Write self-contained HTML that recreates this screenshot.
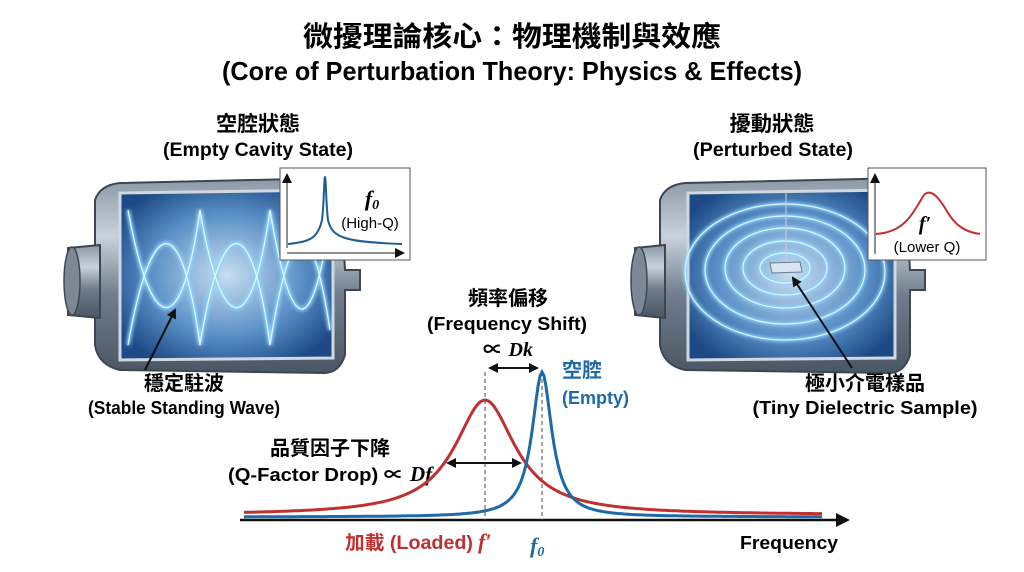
<!DOCTYPE html>
<html><head><meta charset="utf-8"><style>
html,body{margin:0;padding:0;background:#fff;}
svg{display:block;}
text{font-family:"Liberation Sans","Noto Sans CJK TC",sans-serif;}
.b{font-weight:bold;}
.m{font-family:"Liberation Serif",serif;font-style:italic;font-weight:bold;}
</style></head><body>
<svg width="1024" height="572" viewBox="0 0 1024 572" xmlns="http://www.w3.org/2000/svg">
<defs>
<linearGradient id="metal" x1="0" y1="0" x2="0" y2="1">
<stop offset="0" stop-color="#8a97a6"/><stop offset="0.3" stop-color="#c9d2dc"/><stop offset="0.6" stop-color="#6f7d8c"/><stop offset="1" stop-color="#4a5663"/>
</linearGradient>
<radialGradient id="inner" cx="0.5" cy="0.5" r="0.6">
<stop offset="0" stop-color="#c8def0"/><stop offset="0.6" stop-color="#5a8fc6"/><stop offset="1" stop-color="#1d4a86"/>
</radialGradient>
<filter id="glow"><feGaussianBlur stdDeviation="1.8"/></filter>
<marker id="ah" markerWidth="10" markerHeight="10" refX="8" refY="5" orient="auto-start-reverse" markerUnits="userSpaceOnUse"><path d="M0,0 L10,5 L0,10 z" fill="#111"/></marker>
</defs>

<text x="512" y="46" text-anchor="middle" class="b" font-size="28" textLength="418" lengthAdjust="spacingAndGlyphs">微擾理論核心：物理機制與效應</text>
<text x="512" y="80" text-anchor="middle" class="b" font-size="26" textLength="580" lengthAdjust="spacingAndGlyphs">(Core of Perturbation Theory: Physics &amp; Effects)</text>
<text x="258" y="131" text-anchor="middle" class="b" font-size="21" textLength="84" lengthAdjust="spacingAndGlyphs">空腔狀態</text>
<text x="258" y="156" text-anchor="middle" class="b" font-size="19" textLength="190" lengthAdjust="spacingAndGlyphs">(Empty Cavity State)</text>
<text x="772" y="131" text-anchor="middle" class="b" font-size="21" textLength="85" lengthAdjust="spacingAndGlyphs">擾動狀態</text>
<text x="773" y="156" text-anchor="middle" class="b" font-size="19" textLength="160" lengthAdjust="spacingAndGlyphs">(Perturbed State)</text>

<!-- Left cavity -->
<g>
<path d="M95,200 Q100,185 120,183 L340,178 L345,270 L360,270 L360,290 L345,290 L345,355 Q340,372 325,373 L120,370 Q98,365 95,345 Z" fill="url(#metal)" stroke="#3d4752" stroke-width="2"/>
<path d="M68,248 L100,245 L100,318 L68,315 Z" fill="url(#metal)" stroke="#3d4752" stroke-width="2"/>
<ellipse cx="72" cy="281" rx="8" ry="34" fill="#7c8896" stroke="#3d4752" stroke-width="1.5"/>
<path d="M120,193 L333,190 L333,358 L120,360 Z" fill="url(#inner)" stroke="#d0d8e0" stroke-width="3"/>
<g fill="none" stroke="#8fd8ff" stroke-width="4" filter="url(#glow)">
<path d="M128,210 C150,330 180,350 200,210 C220,330 250,350 270,210 C290,330 310,350 330,220"/>
<path d="M128,345 C150,220 180,200 200,345 C220,220 250,200 270,345 C290,220 310,200 330,330"/>
</g>
<g fill="none" stroke="#e6f7ff" stroke-width="1.2">
<path d="M128,210 C150,330 180,350 200,210 C220,330 250,350 270,210 C290,330 310,350 330,220"/>
<path d="M128,345 C150,220 180,200 200,345 C220,220 250,200 270,345 C290,220 310,200 330,330"/>
</g>
<rect x="280" y="168" width="130" height="92" fill="#fff" stroke="#555" stroke-width="1"/>
<line x1="287" y1="248" x2="287" y2="175" stroke="#222" marker-end="url(#ah)"/>
<line x1="287" y1="253" x2="403" y2="253" stroke="#222" marker-end="url(#ah)"/>
<path d="M288,244 C310,242 318,238 322,220 C324,205 324,177 325,177 C326,177 326,205 328,220 C332,238 345,242 402,244" fill="none" stroke="#1e5f8e" stroke-width="2"/>
<text x="372" y="206" text-anchor="middle" class="m" font-size="22">f<tspan font-size="14" dy="3">0</tspan></text>
<text x="370" y="228" text-anchor="middle" font-size="15">(High-Q)</text>
<line x1="145" y1="370" x2="175" y2="310" stroke="#111" stroke-width="2" marker-end="url(#ah)"/>
</g>

<!-- Right cavity -->
<g>
<path d="M660,200 Q665,185 685,183 L905,178 L910,270 L925,270 L925,290 L910,290 L910,355 Q905,372 890,373 L685,370 Q663,365 660,345 Z" fill="url(#metal)" stroke="#3d4752" stroke-width="2"/>
<path d="M635,248 L665,245 L665,318 L635,315 Z" fill="url(#metal)" stroke="#3d4752" stroke-width="2"/>
<ellipse cx="639" cy="281" rx="8" ry="34" fill="#7c8896" stroke="#3d4752" stroke-width="1.5"/>
<path d="M688,193 L895,190 L895,358 L688,360 Z" fill="url(#inner)" stroke="#d0d8e0" stroke-width="3"/>
<g fill="none" stroke="#8fd8ff" stroke-width="3.5" filter="url(#glow)">
<ellipse cx="785" cy="268" rx="25" ry="15"/>
<ellipse cx="785" cy="268" rx="42" ry="27"/>
<ellipse cx="785" cy="268" rx="60" ry="40"/>
<ellipse cx="785" cy="270" rx="80" ry="54"/>
<ellipse cx="785" cy="272" rx="100" ry="68"/>
</g>
<g fill="none" stroke="#dff4ff" stroke-width="1.2">
<ellipse cx="785" cy="268" rx="25" ry="15"/>
<ellipse cx="785" cy="268" rx="42" ry="27"/>
<ellipse cx="785" cy="268" rx="60" ry="40"/>
<ellipse cx="785" cy="270" rx="80" ry="54"/>
<ellipse cx="785" cy="272" rx="100" ry="68"/>
</g>
<line x1="786" y1="192" x2="786" y2="262" stroke="#ccd" stroke-width="1"/>
<path d="M770,263 L800,262 L802,272 L772,273 Z" fill="#d9e6f0" stroke="#6a7f94"/>
<rect x="868" y="168" width="118" height="92" fill="#fff" stroke="#555" stroke-width="1"/>
<line x1="875" y1="254" x2="875" y2="175" stroke="#222" marker-end="url(#ah)"/>
<path d="M876,234 C905,232 912,214 924,195 C929,190 935,192 945,208 C955,226 965,232 980,234" fill="none" stroke="#c03030" stroke-width="2"/>
<text x="925" y="230" text-anchor="middle" class="m" font-size="20">f′</text>
<text x="927" y="252" text-anchor="middle" font-size="15">(Lower Q)</text>
<line x1="852" y1="368" x2="793" y2="278" stroke="#111" stroke-width="2" marker-end="url(#ah)"/>
</g>

<text x="184" y="390" text-anchor="middle" class="b" font-size="20">穩定駐波</text>
<text x="184" y="414" text-anchor="middle" class="b" font-size="18" textLength="192" lengthAdjust="spacingAndGlyphs">(Stable Standing Wave)</text>
<text x="865" y="390" text-anchor="middle" class="b" font-size="20">極小介電樣品</text>
<text x="865" y="414" text-anchor="middle" class="b" font-size="18" textLength="225" lengthAdjust="spacingAndGlyphs">(Tiny Dielectric Sample)</text>
<text x="508" y="305" text-anchor="middle" class="b" font-size="20">頻率偏移</text>
<text x="507" y="330" text-anchor="middle" class="b" font-size="18" textLength="160" lengthAdjust="spacingAndGlyphs">(Frequency Shift)</text>
<text x="508" y="356" text-anchor="middle" font-size="20" class="b"><tspan>∝ </tspan><tspan class="m">Dk</tspan></text>
<text x="562" y="377" class="b" font-size="20" fill="#1e6aa8">空腔</text>
<text x="562" y="404" class="b" font-size="18" fill="#1e6aa8">(Empty)</text>
<text x="330" y="455" text-anchor="middle" class="b" font-size="20">品質因子下降</text>
<text x="228" y="481" class="b" font-size="18" textLength="176" lengthAdjust="spacingAndGlyphs">(Q-Factor Drop) ∝</text>
<text x="410" y="481" class="m" font-size="21">Df</text>
<text x="345" y="549" class="b" font-size="19" fill="#c03030" textLength="128" lengthAdjust="spacingAndGlyphs">加載 (Loaded)</text>
<text x="478" y="549" class="m" font-size="22" fill="#c03030">f′</text>
<text x="530" y="553" class="m" font-size="22" fill="#1e6aa8">f<tspan font-size="14" dy="3">0</tspan></text>
<text x="740" y="549" class="b" font-size="18" textLength="98" lengthAdjust="spacingAndGlyphs">Frequency</text>

<line x1="240" y1="520" x2="840" y2="520" stroke="#111" stroke-width="2.5"/>
<path d="M850,520 L836,513 L836,527 Z" fill="#111"/>
<line x1="485" y1="372" x2="485" y2="520" stroke="#444" stroke-dasharray="4,3" stroke-width="1"/>
<line x1="542" y1="372" x2="542" y2="520" stroke="#444" stroke-dasharray="4,3" stroke-width="1"/>
<path id="red" fill="none" stroke="#c03030" stroke-width="3"/>
<path id="blue" fill="none" stroke="#1e6aa8" stroke-width="3"/>
<line x1="490" y1="368" x2="537" y2="368" stroke="#111" stroke-width="2" marker-start="url(#ah)" marker-end="url(#ah)"/>
<line x1="448" y1="463" x2="520" y2="463" stroke="#111" stroke-width="2" marker-start="url(#ah)" marker-end="url(#ah)"/>
</svg>
<script>
function lor(c,w,top,base){var d="";for(var x=244;x<=822;x+=2){var y=base-(base-top)/(1+Math.pow((x-c)/w,2));d+=(x==244?"M":"L")+x+","+y.toFixed(1);}return d;}
document.getElementById("red").setAttribute("d",lor(485,37,400,515));
document.getElementById("blue").setAttribute("d",lor(542,12,372,517));
</script>
</body></html>
